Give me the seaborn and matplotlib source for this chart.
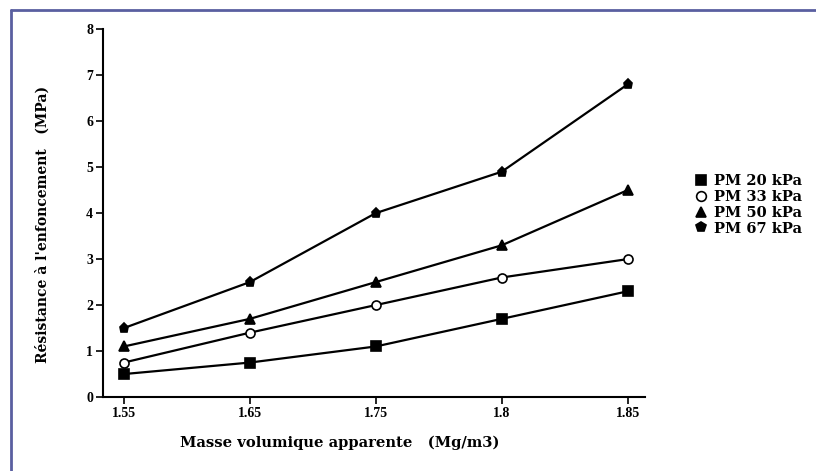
import matplotlib
matplotlib.use("Agg")
import matplotlib.pyplot as plt
from matplotlib.lines import Line2D
import seaborn as sns
import pandas as pd
import numpy as np

x_labels = ["1.55", "1.65", "1.75", "1.8", "1.85"]
series_names = ["PM 20 kPa", "PM 33 kPa", "PM 50 kPa", "PM 67 kPa"]
pm20 = [0.5, 0.75, 1.1, 1.7, 2.3]
pm33 = [0.75, 1.4, 2.0, 2.6, 3.0]
pm50 = [1.1, 1.7, 2.5, 3.3, 4.5]
pm67 = [1.5, 2.5, 4.0, 4.9, 6.8]
y_ticks = [0, 1, 2, 3, 4, 5, 6, 7, 8]

sns.set_theme(style="white")
plt.rcParams['font.family'] = ['Liberation Serif', 'DejaVu Serif']
plt.rcParams['font.weight'] = 'bold'
plt.rcParams['text.color'] = 'black'
plt.rcParams['axes.labelcolor'] = 'black'
plt.rcParams['xtick.color'] = 'black'
plt.rcParams['ytick.color'] = 'black'
wide = ['DejaVu Serif', 'Liberation Serif']

fig = plt.figure(figsize=(8.16, 4.71), dpi=100)
ax = fig.add_axes([0.126, 0.157, 0.664, 0.781])

values = [pm20, pm33, pm50, pm67]
markers = ['s', 'o', '^', 'p']
faces = ['black', 'white', 'black', 'black']
pos = list(range(len(x_labels)))
for name, vals, m, fc in zip(series_names, values, markers, faces):
    df = pd.DataFrame({"pos": pos, "val": vals})
    sns.lineplot(data=df, x="pos", y="val", ax=ax, color="black", lw=1.6,
                 marker=m, markersize=6.5, markerfacecolor=fc,
                 markeredgecolor="black", markeredgewidth=1.2, legend=False)

ax.set_xlim(-0.167, 4.135)
ax.set_ylim(0, 8)
ax.set_xticks(pos)
ax.set_xticklabels(x_labels)
ax.set_yticks(y_ticks)
ax.tick_params(axis='both', direction='out', length=5, width=1.2, color='black',
               labelsize=10, bottom=True, left=True, pad=2)
for lab in ax.get_xticklabels() + ax.get_yticklabels():
    lab.set_fontweight('bold')
for s in ['top', 'right']:
    ax.spines[s].set_visible(False)
for s in ['left', 'bottom']:
    ax.spines[s].set_color('black')
    ax.spines[s].set_linewidth(1.5)
ax.set_xlabel("Masse volumique apparente   (Mg/m3)", fontsize=10.6, fontweight='bold',
              family=wide)
ax.xaxis.set_label_coords(0.438, -0.105)
ax.set_ylabel("Résistance à l'enfoncement   (MPa)", fontsize=10, fontweight='bold',
              family=wide)
ax.yaxis.set_label_coords(-0.098, 0.47)

handles = [Line2D([0], [0], linestyle='none', marker=m, markersize=7,
                  markerfacecolor=fc, markeredgecolor='black', markeredgewidth=1.2, color='black')
           for m, fc in zip(markers, faces)]
leg = fig.legend(handles, series_names, loc='center left', bbox_to_anchor=(0.836, 0.565),
                 frameon=False, handlelength=0.8, handletextpad=0.5,
                 labelspacing=0.12, prop={'weight': 'bold', 'size': 10.5, 'family': wide})

border_color = '#5a5fa0'
fig.add_artist(Line2D([0.0135, 1.0], [1 - 10 / 471, 1 - 10 / 471], color=border_color, lw=2,
                      transform=fig.transFigure))
fig.add_artist(Line2D([0.0135, 0.0135], [0.0, 1 - 10 / 471], color=border_color, lw=2,
                      transform=fig.transFigure))

fig.savefig("out.png", dpi=100)
